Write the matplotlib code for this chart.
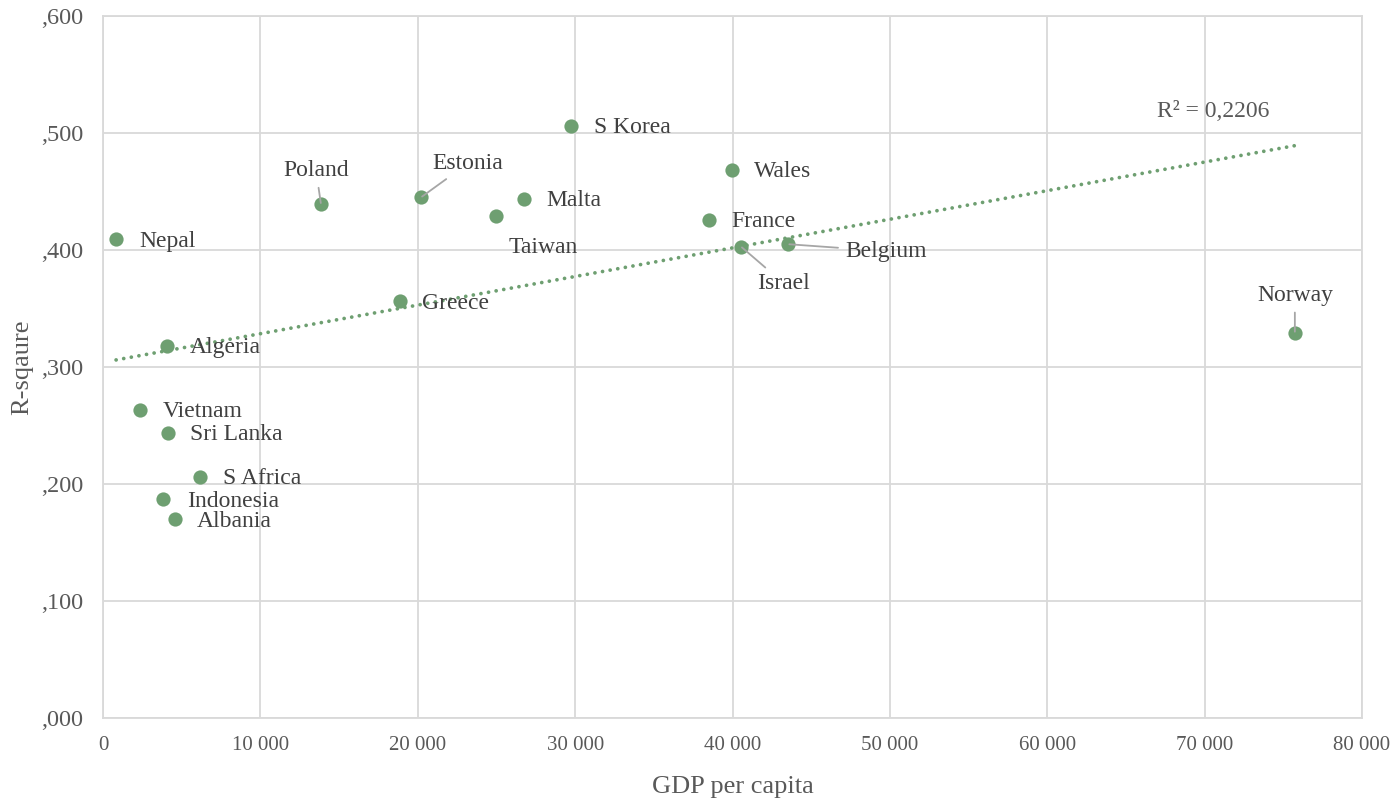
import numpy as np
import matplotlib
matplotlib.use("Agg")
import matplotlib.pyplot as plt
from matplotlib.ticker import FuncFormatter

# data
countries = ["Nepal", "Poland", "Estonia", "S Korea", "Malta", "Taiwan", "Wales",
             "France", "Israel", "Belgium", "Greece", "Algeria", "Norway",
             "Vietnam", "Sri Lanka", "S Africa", "Indonesia", "Albania"]
gdp = [830, 13850, 20200, 29730, 26750, 24970, 39960,
       38500, 40530, 43520, 18870, 4070, 75730,
       2350, 4130, 6160, 3810, 4570]
rsq = [0.409, 0.439, 0.445, 0.506, 0.444, 0.429, 0.468,
       0.426, 0.403, 0.405, 0.356, 0.318, 0.329,
       0.263, 0.244, 0.206, 0.187, 0.170]
r2_text = "R² = 0,2206"

# label placement: (dx, dy) in pixels from the marker, horizontal alignment, leader line
label_layout = {
    "Nepal": (23, -2, "left", False),
    "Poland": (-5, 34, "center", True),
    "Estonia": (47, 34, "center", True),
    "S Korea": (23, -2, "left", False),
    "Malta": (22, -2, "left", False),
    "Taiwan": (47, -31, "center", False),
    "Wales": (22, -1, "left", False),
    "France": (22, -2, "left", False),
    "Israel": (43, -37, "center", True),
    "Belgium": (57, -7, "left", True),
    "Greece": (22, -2, "left", False),
    "Algeria": (23, -2, "left", False),
    "Norway": (0, 38, "center", True),
    "Vietnam": (23, -1, "left", False),
    "Sri Lanka": (22, -2, "left", False),
    "S Africa": (23, -2, "left", False),
    "Indonesia": (24, -2, "left", False),
    "Albania": (22, -2, "left", False),
}

GREEN = "#6E9F71"
GRID = "#D9D9D9"
TICK = "#595959"
LABEL = "#404040"

plt.rcParams["font.family"] = ["Liberation Serif", "DejaVu Serif"]

fig = plt.figure(figsize=(14, 8.01), dpi=100)
ax = fig.add_axes([0.0736, 0.1036, 0.8993, 0.8764])

ax.scatter(gdp, rsq, s=105, color=GREEN, zorder=3, linewidths=0)

# linear trendline
coef = np.polyfit(gdp, rsq, 1)
xs = np.array([min(gdp), max(gdp)])
ax.plot(xs, np.polyval(coef, xs), color=GREEN, lw=2.7, ls=(0, (0.01, 2.05)),
        dash_capstyle="round", zorder=2)
ax.text(70530, 0.518, r2_text, ha="center", va="center", fontsize=17, color=TICK)

for name, x, y in zip(countries, gdp, rsq):
    dx, dy, ha, leader = label_layout[name]
    props = None
    if leader:
        props = dict(arrowstyle="-", color="#A6A6A6", lw=1.3, shrinkA=3, shrinkB=1)
    ax.annotate(name, (x, y), xytext=(dx, dy), textcoords="offset pixels",
                ha=ha, va="center", fontsize=17, color=LABEL,
                arrowprops=props, zorder=4)

ax.set_xlim(0, 80000)
ax.set_ylim(0, 0.6)
ax.set_xticks(np.arange(0, 80001, 10000))
ax.set_yticks(np.arange(0, 0.61, 0.1))
ax.xaxis.set_major_formatter(FuncFormatter(lambda v, p: f"{int(v):,}".replace(",", " ")))
ax.yaxis.set_major_formatter(FuncFormatter(lambda v, p: f"{v:.3f}".lstrip("0").replace(".", ",")))
ax.tick_params(length=0, labelcolor=TICK)
ax.tick_params(axis="x", labelsize=15, pad=13)
ax.tick_params(axis="y", labelsize=17.5, pad=14)
ax.grid(True, color=GRID, lw=1.3)
ax.set_axisbelow(True)
for sp in ax.spines.values():
    sp.set_color(GRID)
    sp.set_linewidth(1.3)

ax.set_xlabel("GDP per capita", fontsize=19, color=TICK, labelpad=15)
ax.set_ylabel("R-sqaure", fontsize=19, color=TICK, labelpad=6)

fig.savefig("out.png", dpi=100, facecolor="white")
